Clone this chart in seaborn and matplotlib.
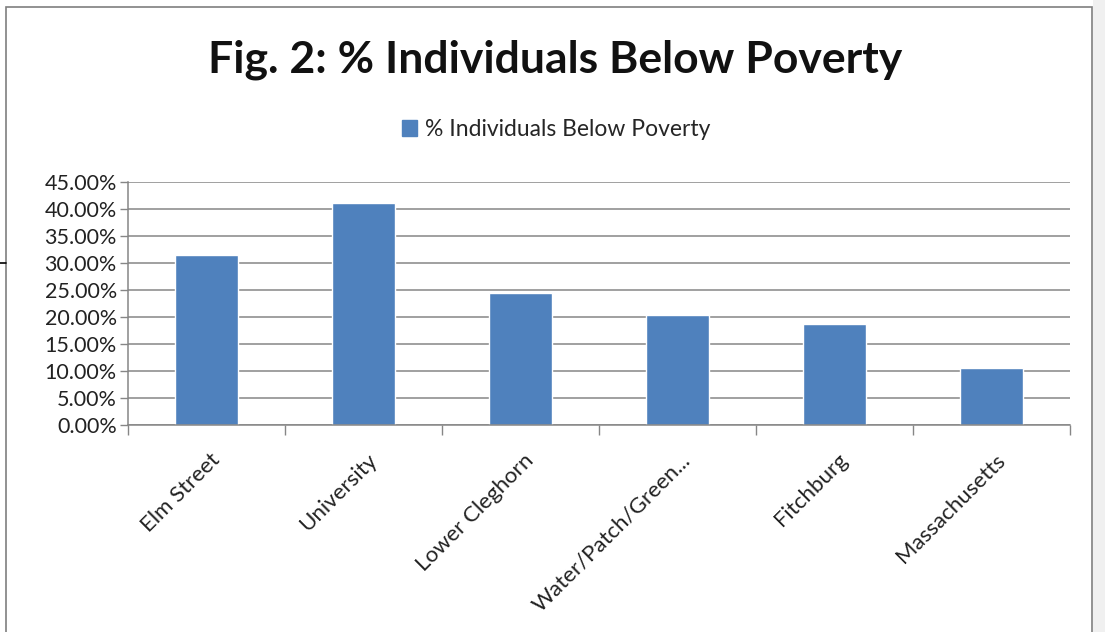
import numpy as np
import pandas as pd
import matplotlib.pyplot as plt
import matplotlib.patches as mpatches
from matplotlib.lines import Line2D
import seaborn as sns

# values (percent)
areas = ['Elm Street', 'University', 'Lower Cleghorn', 'Water/Patch/Green...', 'Fitchburg', 'Massachusetts']
pct_below = [31.5, 41.0, 24.4, 20.4, 18.6, 10.5]
yticks = [0, 5, 10, 15, 20, 25, 30, 35, 40, 45]
series_name = '% Individuals Below Poverty'
title = 'Fig. 2: % Individuals Below Poverty'

df = pd.DataFrame({'area': areas, 'pct': pct_below})

sns.set_theme(style='white')
plt.rcParams['font.family'] = ['Lato', 'DejaVu Sans']

fig = plt.figure(figsize=(11.05, 6.32), dpi=100)
fig.patch.set_facecolor('white')
ax = fig.add_axes([0.1158, 0.3275, 0.8525, 0.385])

bar_col = '#4F81BD'
sns.barplot(data=df, x='area', y='pct', color=bar_col, width=0.4,
            saturation=1, ax=ax, label=series_name)

ax.set_ylim(0, 45)
ax.set_xlim(-0.5, len(areas) - 0.5)
ax.set_yticks(yticks)
ax.set_yticklabels(['{:.2f}%'.format(v) for v in yticks], fontsize=15.5, color='#222222')
ax.yaxis.grid(True, color='#868686', linewidth=1.1)
ax.set_axisbelow(True)
ax.set_xlabel('')
ax.set_ylabel('')

# category boundary ticks like Excel
ax.set_xticks(np.arange(-0.5, len(areas), 1.0), minor=False)
ax.set_xticklabels([''] * (len(areas) + 1))
ax.tick_params(axis='x', length=7, width=1, color='#868686', bottom=True)
ax.tick_params(axis='y', length=6, width=1, color='#868686', left=True, pad=2)
for i, name in enumerate(areas):
    ax.text(i + 0.02, -4.6, name, rotation=45, ha='right', va='top',
            rotation_mode='anchor', fontsize=16, color='#222222')

for s in ['top', 'right']:
    ax.spines[s].set_visible(False)
for s in ['left', 'bottom']:
    ax.spines[s].set_color('#868686')
    ax.spines[s].set_linewidth(1.1)

fig.text(0.502, 0.905, title, ha='center', va='center', fontsize=32,
         fontweight='bold', color='#111111')

handle = mpatches.Patch(color=bar_col, label=series_name)
fig.legend(handles=[handle], loc='center', bbox_to_anchor=(0.503, 0.795),
           frameon=False, fontsize=16.5, handlelength=0.65, handleheight=0.7,
           handletextpad=0.35)
if ax.get_legend() is not None:
    ax.get_legend().remove()

# chart border and surrounding strip
fig.patches.append(mpatches.Rectangle((0.005, -0.01), 0.983, 0.999, transform=fig.transFigure,
                                      fill=False, edgecolor='#7f7f7f', linewidth=1.2))
fig.patches.append(mpatches.Rectangle((0.989, 0), 0.011, 1, transform=fig.transFigure,
                                      facecolor='#f0f0f0', edgecolor='none'))
fig.add_artist(Line2D([0.0, 0.005], [0.584, 0.584], transform=fig.transFigure,
                      color='black', linewidth=1.2))

fig.savefig('out.png', dpi=100)
